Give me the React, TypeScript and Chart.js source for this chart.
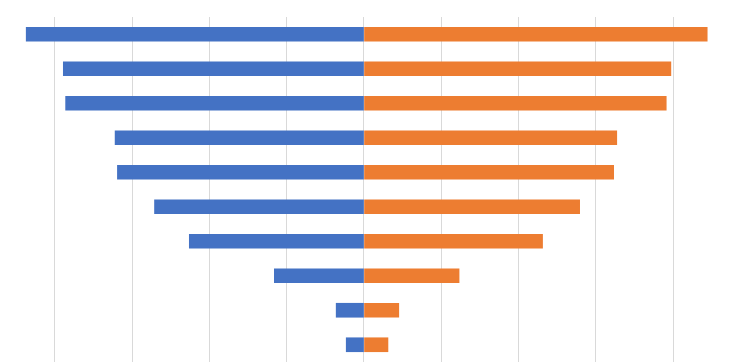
import React, { useEffect, useRef } from "react";
import { Chart, registerables } from "chart.js";

Chart.register(...registerables);

const categories = ["1", "2", "3", "4", "5", "6", "7", "8", "9", "10"];
const leftValues = [43.7, 38.9, 38.6, 32.2, 31.9, 27.1, 22.6, 11.6, 3.6, 2.3];
const rightValues = [44.4, 39.7, 39.1, 32.7, 32.3, 27.9, 23.1, 12.3, 4.5, 3.1];
const tickValues = [-40, -30, -20, -10, 0, 10, 20, 30, 40];

export default function App() {
  const ref = useRef<HTMLCanvasElement | null>(null);

  useEffect(() => {
    document.body.style.margin = "0";
    if (!ref.current) return;
    const chart = new Chart(ref.current, {
      type: "bar",
      data: {
        labels: categories,
        datasets: [
          {
            label: "Left",
            data: leftValues.map((v) => -v),
            backgroundColor: "#4472C4",
            barThickness: 14,
          },
          {
            label: "Right",
            data: rightValues,
            backgroundColor: "#ED7D31",
            barThickness: 14,
          },
        ],
      },
      options: {
        indexAxis: "y",
        animation: false,
        responsive: false,
        maintainAspectRatio: false,
        layout: { padding: { top: 17, bottom: 2, left: 0, right: 0 } },
        plugins: {
          legend: { display: false },
          tooltip: { enabled: false },
        },
        scales: {
          x: {
            stacked: true,
            min: -47.09,
            max: 49.16,
            afterBuildTicks: (scale: any) => {
              scale.ticks = tickValues.map((v) => ({ value: v }));
            },
            ticks: { display: false },
            grid: { color: "#d9d9d9", lineWidth: 1, drawTicks: false },
            border: { display: false },
          },
          y: {
            stacked: true,
            display: false,
          },
        },
      },
    });
    return () => chart.destroy();
  }, []);

  return (
    <div style={{ position: "absolute", left: 0, top: 0, width: 744, height: 364, background: "#fff" }}>
      <canvas ref={ref} width={744} height={364} />
    </div>
  );
}
